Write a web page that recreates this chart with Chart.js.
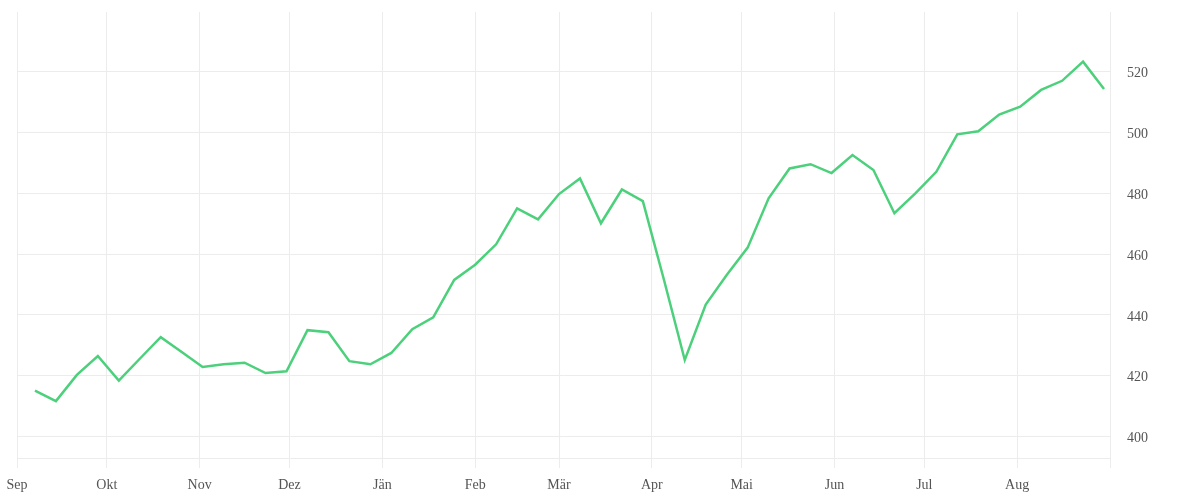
<!DOCTYPE html>
<html>
<head>
<meta charset="utf-8">
<script src="https://cdn.jsdelivr.net/npm/chart.js@4"></script>
<style>
  html, body { margin: 0; padding: 0; background: #fff; }
  #wrap { width: 1200px; height: 500px; position: relative; }
</style>
</head>
<body>
<div id="wrap"><canvas id="c"></canvas></div>
<script>
// Weekly observation dates
const dates = [
  "2018-09-07","2018-09-14","2018-09-21","2018-09-28",
  "2018-10-05","2018-10-12","2018-10-19","2018-10-26",
  "2018-11-02","2018-11-09","2018-11-16","2018-11-23","2018-11-30",
  "2018-12-07","2018-12-14","2018-12-21","2018-12-28",
  "2019-01-04","2019-01-11","2019-01-18","2019-01-25",
  "2019-02-01","2019-02-08","2019-02-15","2019-02-22",
  "2019-03-01","2019-03-08","2019-03-15","2019-03-22","2019-03-29",
  "2019-04-05","2019-04-12","2019-04-19","2019-04-26",
  "2019-05-03","2019-05-10","2019-05-17","2019-05-24","2019-05-31",
  "2019-06-07","2019-06-14","2019-06-21","2019-06-28",
  "2019-07-05","2019-07-12","2019-07-19","2019-07-26",
  "2019-08-02","2019-08-09","2019-08-16","2019-08-23","2019-08-30"
];
const values = [
  415.1, 411.7, 420.3, 426.5, 418.4, 425.6, 432.7, 427.8, 422.9, 423.8,
  424.3, 420.9, 421.5, 435.0, 434.3, 424.8, 423.8, 427.5, 435.3, 439.2,
  451.5, 456.5, 463.2, 475.0, 471.4, 479.7, 484.8, 470.1, 481.2, 477.4,
  451.7, 425.2, 443.4, 453.1, 462.1, 478.3, 488.1, 489.5, 486.6, 492.5,
  487.6, 473.4, 479.9, 487.0, 499.3, 500.3, 505.8, 508.4, 513.9, 516.9,
  523.2, 514.2
];
// Month ticks on the time axis
const monthTickDates = [
  "2018-09-01","2018-10-01","2018-11-01","2018-12-01","2019-01-01","2019-02-01",
  "2019-03-01","2019-04-01","2019-05-01","2019-06-01","2019-07-01","2019-08-01","2019-09-01"
];
const monthLabels = ["Sep","Okt","Nov","Dez","Jän","Feb","Mär","Apr","Mai","Jun","Jul","Aug",""];
const yTicks = [400, 420, 440, 460, 480, 500, 520];
const yMin = 393, yMax = 539.5;

const DAY = 86400000;
const origin = Date.parse(monthTickDates[0] + "T00:00:00Z");
const toDay = s => (Date.parse(s + "T00:00:00Z") - origin) / DAY;
const xTickVals = monthTickDates.map(toDay);
const points = dates.map((d, i) => ({ x: toDay(d), y: values[i] }));

const gridColor = '#ececec';
const fontFamily = '"Liberation Serif", "DejaVu Serif", serif';

new Chart(document.getElementById('c'), {
  type: 'line',
  data: {
    datasets: [{
      data: points,
      borderColor: 'rgb(76, 208, 123)',
      borderWidth: 2.5,
      pointRadius: 0,
      pointHoverRadius: 0,
      tension: 0,
      fill: false
    }]
  },
  options: {
    responsive: true,
    maintainAspectRatio: false,
    animation: false,
    layout: { padding: { top: 12, right: 35, bottom: -2, left: 17 } },
    plugins: { legend: { display: false }, tooltip: { enabled: false } },
    scales: {
      x: {
        type: 'linear',
        min: xTickVals[0],
        max: xTickVals[xTickVals.length - 1],
        afterBuildTicks: s => { s.ticks = xTickVals.map(v => ({ value: v })); },
        afterFit: s => { s.paddingLeft = 0; s.paddingRight = 0; },
        ticks: {
          autoSkip: false,
          maxRotation: 0,
          padding: 10,
          color: '#555',
          font: { family: fontFamily, size: 14, lineHeight: 1.0 },
          callback: (v) => { const i = xTickVals.indexOf(v); return i >= 0 ? monthLabels[i] : ''; }
        },
        grid: { color: gridColor, tickLength: 10, drawTicks: true },
        border: { color: gridColor }
      },
      y: {
        position: 'right',
        min: yMin,
        max: yMax,
        afterBuildTicks: s => { s.ticks = yTicks.map(v => ({ value: v })); },
        afterFit: s => { s.paddingTop = 0; s.paddingBottom = 0; },
        ticks: {
          padding: 17,
          labelOffset: 2,
          color: '#555',
          font: { family: fontFamily, size: 14 }
        },
        grid: { color: gridColor, drawTicks: false },
        border: { color: gridColor }
      }
    }
  }
});
</script>
</body>
</html>
